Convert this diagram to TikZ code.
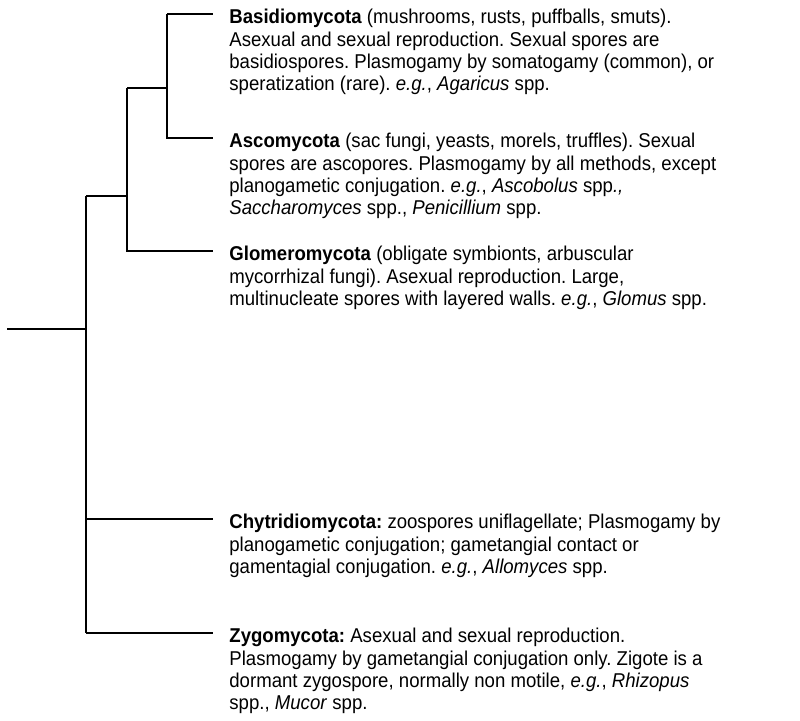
\documentclass[tikz,border=0pt]{standalone}
\usepackage{fontspec}
\setmainfont{Liberation Sans}[FakeStretch=0.93]
\usepackage{tikz}
\usetikzlibrary{positioning}

\tikzset{
  branch/.style={black, line width=0.75pt},
  taxon/.style={anchor=north west, inner sep=0pt, align=left,
    font=\fontsize{10}{11.15}\selectfont}
}

\begin{document}
\frenchspacing
\begin{tikzpicture}[x=0.5pt, y=-0.5pt]
				\useasboundingbox (0,0) rectangle (800,721);
				% inner nodes of the tree
				\coordinate (root) at (7,329);
				\coordinate (n0) at (86,329);
				\coordinate (n1) at (127,196);
				\coordinate (n2) at (167,88);
				% leaf ends
				\coordinate (lBasidio) at (213,14);
				\coordinate (lAsco) at (213,138);
				\coordinate (lGlomero) at (213,251);
				\coordinate (lChytrid) at (213,519);
				\coordinate (lZygo) at (213,633);
				% branches
				\draw[branch] (root) -- (n0);
				\draw[branch] (n0 |- lChytrid) -- (lChytrid);
				\draw[branch] (n0 |- lZygo) -- (lZygo);
				\draw[branch] (n0 |- n1) -- (n1);
				\draw[branch] (n0 |- n1) -- (n0 |- lZygo);
				\draw[branch] (n1 |- n2) -- (n2);
				\draw[branch] (n1 |- n2) -- (n1 |- lGlomero) -- (lGlomero);
				\draw[branch] (n2 |- lBasidio) -- (lBasidio);
				\draw[branch] (n2 |- lBasidio) -- (n2 |- lAsco) -- (lAsco);
				% taxa
				\node[taxon] (basidio) at (229,9) {\textbf{Basidiomycota} (mushrooms, rusts, puffballs, smuts).\\
					Asexual and sexual reproduction. Sexual spores are\\
					basidiospores. Plasmogamy by somatogamy (common), or\\
					speratization (rare). \textit{e.g.}, \textit{Agaricus} spp.};
				\node[taxon] (asco) at (229,133) {\textbf{Ascomycota} (sac fungi, yeasts, morels, truffles). Sexual\\
					spores are ascopores. Plasmogamy by all methods, except\\
					planogametic conjugation. \textit{e.g.}, \textit{Ascobolus} spp\textit{.,}\\
					\textit{Saccharomyces} spp., \textit{Penicillium} spp.};
				\node[taxon] (glomero) at (229,246) {\textbf{Glomeromycota} (obligate symbionts, arbuscular\\
					mycorrhizal fungi). Asexual reproduction. Large,\\
					multinucleate spores with layered walls. \textit{e.g.}, \textit{Glomus} spp.};
				\node[taxon] (chytrid) at (229,514) {\textbf{Chytridiomycota:} zoospores uniflagellate; Plasmogamy by\\
					planogametic conjugation; gametangial contact or\\
					gamentagial conjugation. \textit{e.g.}, \textit{Allomyces} spp.};
				\node[taxon] (zygo) at (229,628) {\textbf{Zygomycota:} Asexual and sexual reproduction.\\
					Plasmogamy by gametangial conjugation only. Zigote is a\\
					dormant zygospore, normally non motile, \textit{e.g.}, \textit{Rhizopus}\\
					spp., \textit{Mucor} spp.};
			\end{tikzpicture}
\end{document}
